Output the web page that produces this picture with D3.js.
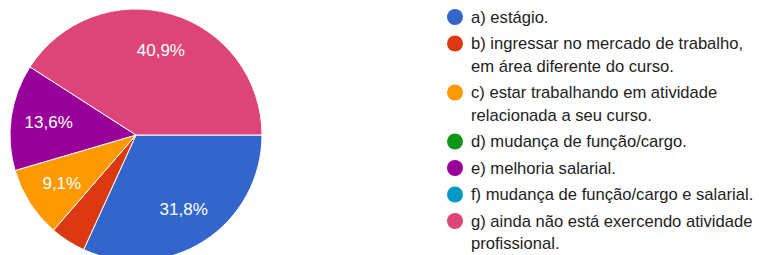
<!DOCTYPE html>
<html>
<head>
<meta charset="utf-8">
<script src="https://cdn.jsdelivr.net/npm/d3@7"></script>
<style>
  body { margin: 0; background: #fff; }
  svg { display: block; font-family: "Liberation Sans", Arial, sans-serif; }
</style>
</head>
<body>
<svg id="chart" width="759" height="255"></svg>
<script>
// answers and counts (22 respostas)
const categories = [
  ["a) estágio."],
  ["b) ingressar no mercado de trabalho,", "em área diferente do curso."],
  ["c) estar trabalhando em atividade", "relacionada a seu curso."],
  ["d) mudança de função/cargo."],
  ["e) melhoria salarial."],
  ["f) mudança de função/cargo e salarial."],
  ["g) ainda não está exercendo atividade", "profissional."]
];
const counts = [7, 1, 2, 0, 3, 0, 9];
const colors = ["#3366cc", "#dc3912", "#ff9900", "#109618", "#990099", "#0099c6", "#dd4477"];

const svg = d3.select("#chart");
const cx = 136, cy = 135, r = 126;
const total = d3.sum(counts);

const pie = d3.pie()
  .sort(null)
  .value(d => d)
  .startAngle(Math.PI / 2)
  .endAngle(Math.PI / 2 + 2 * Math.PI);

const arcs = pie(counts);
const arc = d3.arc().innerRadius(0).outerRadius(r);
const labelArc = d3.arc().innerRadius(r * 0.7).outerRadius(r * 0.7);

const g = svg.append("g").attr("transform", `translate(${cx},${cy})`);

g.selectAll("path")
  .data(arcs.filter(d => d.value > 0))
  .join("path")
  .attr("d", arc)
  .attr("fill", d => colors[d.index])
  .attr("stroke", "#fff")
  .attr("stroke-width", 1);

const fmt = v => (v / total * 100).toFixed(1).replace(".", ",") + "%";

g.selectAll("text")
  .data(arcs.filter(d => d.value / total > 0.05))
  .join("text")
  .attr("transform", d => `translate(${labelArc.centroid(d)})`)
  .attr("text-anchor", "middle")
  .attr("dy", "0.35em")
  .attr("fill", "#fff")
  .style("font-size", "17px")
  .text(d => fmt(d.value));

// legend
const leg = svg.append("g");
let y = 17;
categories.forEach((lines, i) => {
  const item = leg.append("g").attr("transform", `translate(0,${y})`);
  item.append("circle")
    .attr("cx", 455).attr("cy", 0).attr("r", 8)
    .attr("fill", colors[i]);
  const t = item.append("text")
    .attr("x", 471)
    .attr("fill", "#222")
    .style("font-size", "16.6px");
  lines.forEach((ln, j) => {
    t.append("tspan").attr("x", 471).attr("y", j * 22.5).attr("dy", "0.35em").text(ln);
  });
  y += 26.5 + (lines.length - 1) * 22.5;
});
</script>
</body>
</html>
